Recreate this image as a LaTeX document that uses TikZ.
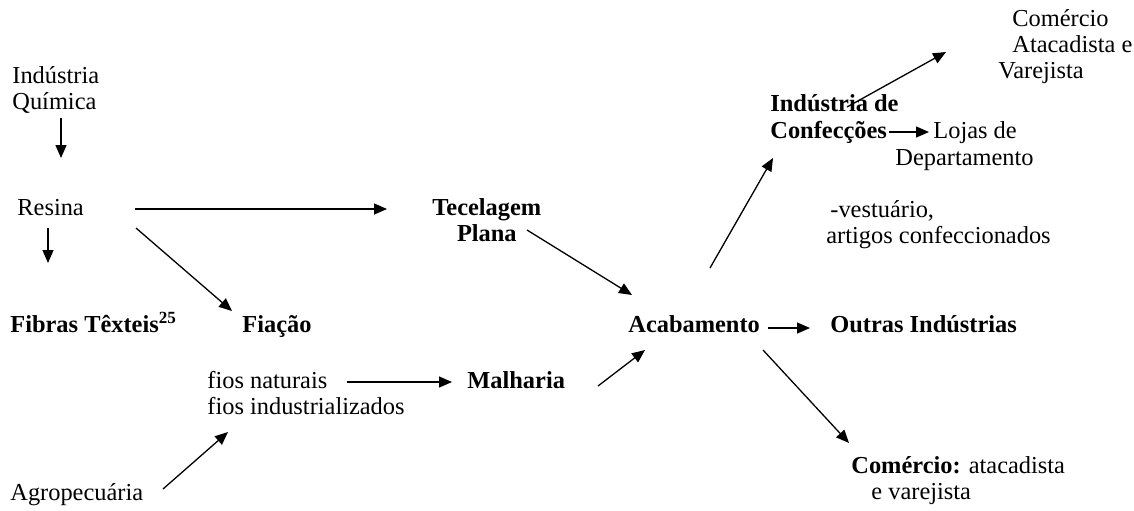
\documentclass[tikz,border=0pt]{standalone}
\usepackage{fontspec}
\setmainfont{Liberation Serif}
\usetikzlibrary{arrows.meta}
\begin{document}
\begin{tikzpicture}[x=0.5pt,y=-0.5pt,
  lbl/.style={anchor=west,inner sep=0pt,font=\fontsize{12.2}{13.5}\selectfont,text height=8.5pt,text depth=2.5pt},
  blbl/.style={lbl,font=\fontsize{12.2}{13.5}\selectfont\bfseries},
  arr/.style={line width=0.65pt,-{Triangle[length=6.5pt,width=5.5pt]}}]
\useasboundingbox (0,0) rectangle (1134,510);
% texts
\node[lbl] (iq1) at (12,77) {Indústria};
\node[lbl] (iq2) at (12,103) {Química};
\node[lbl] (resina) at (17,209) {Resina};
\node[blbl] (fibras) at (10,326) {Fibras Têxteis\textsuperscript{25}};
\node[blbl] (fiacao) at (242,326) {Fiação};
\node[lbl] (fios1) at (207,382) {fios naturais};
\node[lbl] (fios2) at (207,408) {fios industrializados};
\node[lbl] (agro) at (10,494) {Agropecuária};
\node[blbl] (malharia) at (467,382) {Malharia};
\node[blbl] (tec1) at (432,209) {Tecelagem};
\node[blbl,anchor=center] (tec2) at (tec1.center |- 0,235) {Plana};
\node[blbl] (acab) at (628,326) {Acabamento};
\node[blbl] (outras) at (830,326) {Outras Indústrias};
\node[lbl] (com1) at (851,467) {\textbf{Comércio:} atacadista};
\node[lbl] (com2) at (871,493) {e varejista};
\node[blbl] (conf1) at (770,105) {Indústria de};
\node[blbl] (conf2) at (770,132) {Confecções};
\node[lbl] (lojas1) at (933,132) {Lojas de};
\node[lbl] (lojas2) at (895,159) {Departamento};
\node[lbl] (vest1) at (830,211) {-vestuário,};
\node[lbl] (vest2) at (826,237) {artigos confeccionados};
\node[lbl] (cav1) at (1012,20) {Comércio};
\node[lbl] (cav2) at (1012,46) {Atacadista e};
\node[lbl] (cav3) at (998,72) {Varejista};
% connector ends
\coordinate (a1s) at (61,118); \coordinate (a1e) at (61,158);
\coordinate (a2s) at (135,209); \coordinate (a2e) at (387,209);
\coordinate (a3s) at (48,228); \coordinate (a3e) at (48,263);
\coordinate (a4s) at (136,228); \coordinate (a4e) at (232,311);
\coordinate (a5s) at (163,489); \coordinate (a5e) at (228,432);
\coordinate (a6s) at (347,382); \coordinate (a6e) at (452,382);
\coordinate (a7s) at (527,230); \coordinate (a7e) at (632,295);
\coordinate (a8s) at (598,386); \coordinate (a8e) at (645,350);
\coordinate (a9s) at (768,328); \coordinate (a9e) at (810,328);
\coordinate (a10s) at (763,350); \coordinate (a10e) at (849,443);
\coordinate (a11s) at (710,268); \coordinate (a11e) at (773,158);
\coordinate (a12s) at (889,132); \coordinate (a12e) at (929,132);
\coordinate (a13s) at (847,107); \coordinate (a13e) at (946,52);
\foreach \i in {1,...,13} {\draw[arr] (a\i s) -- (a\i e);}
\end{tikzpicture}
\end{document}
